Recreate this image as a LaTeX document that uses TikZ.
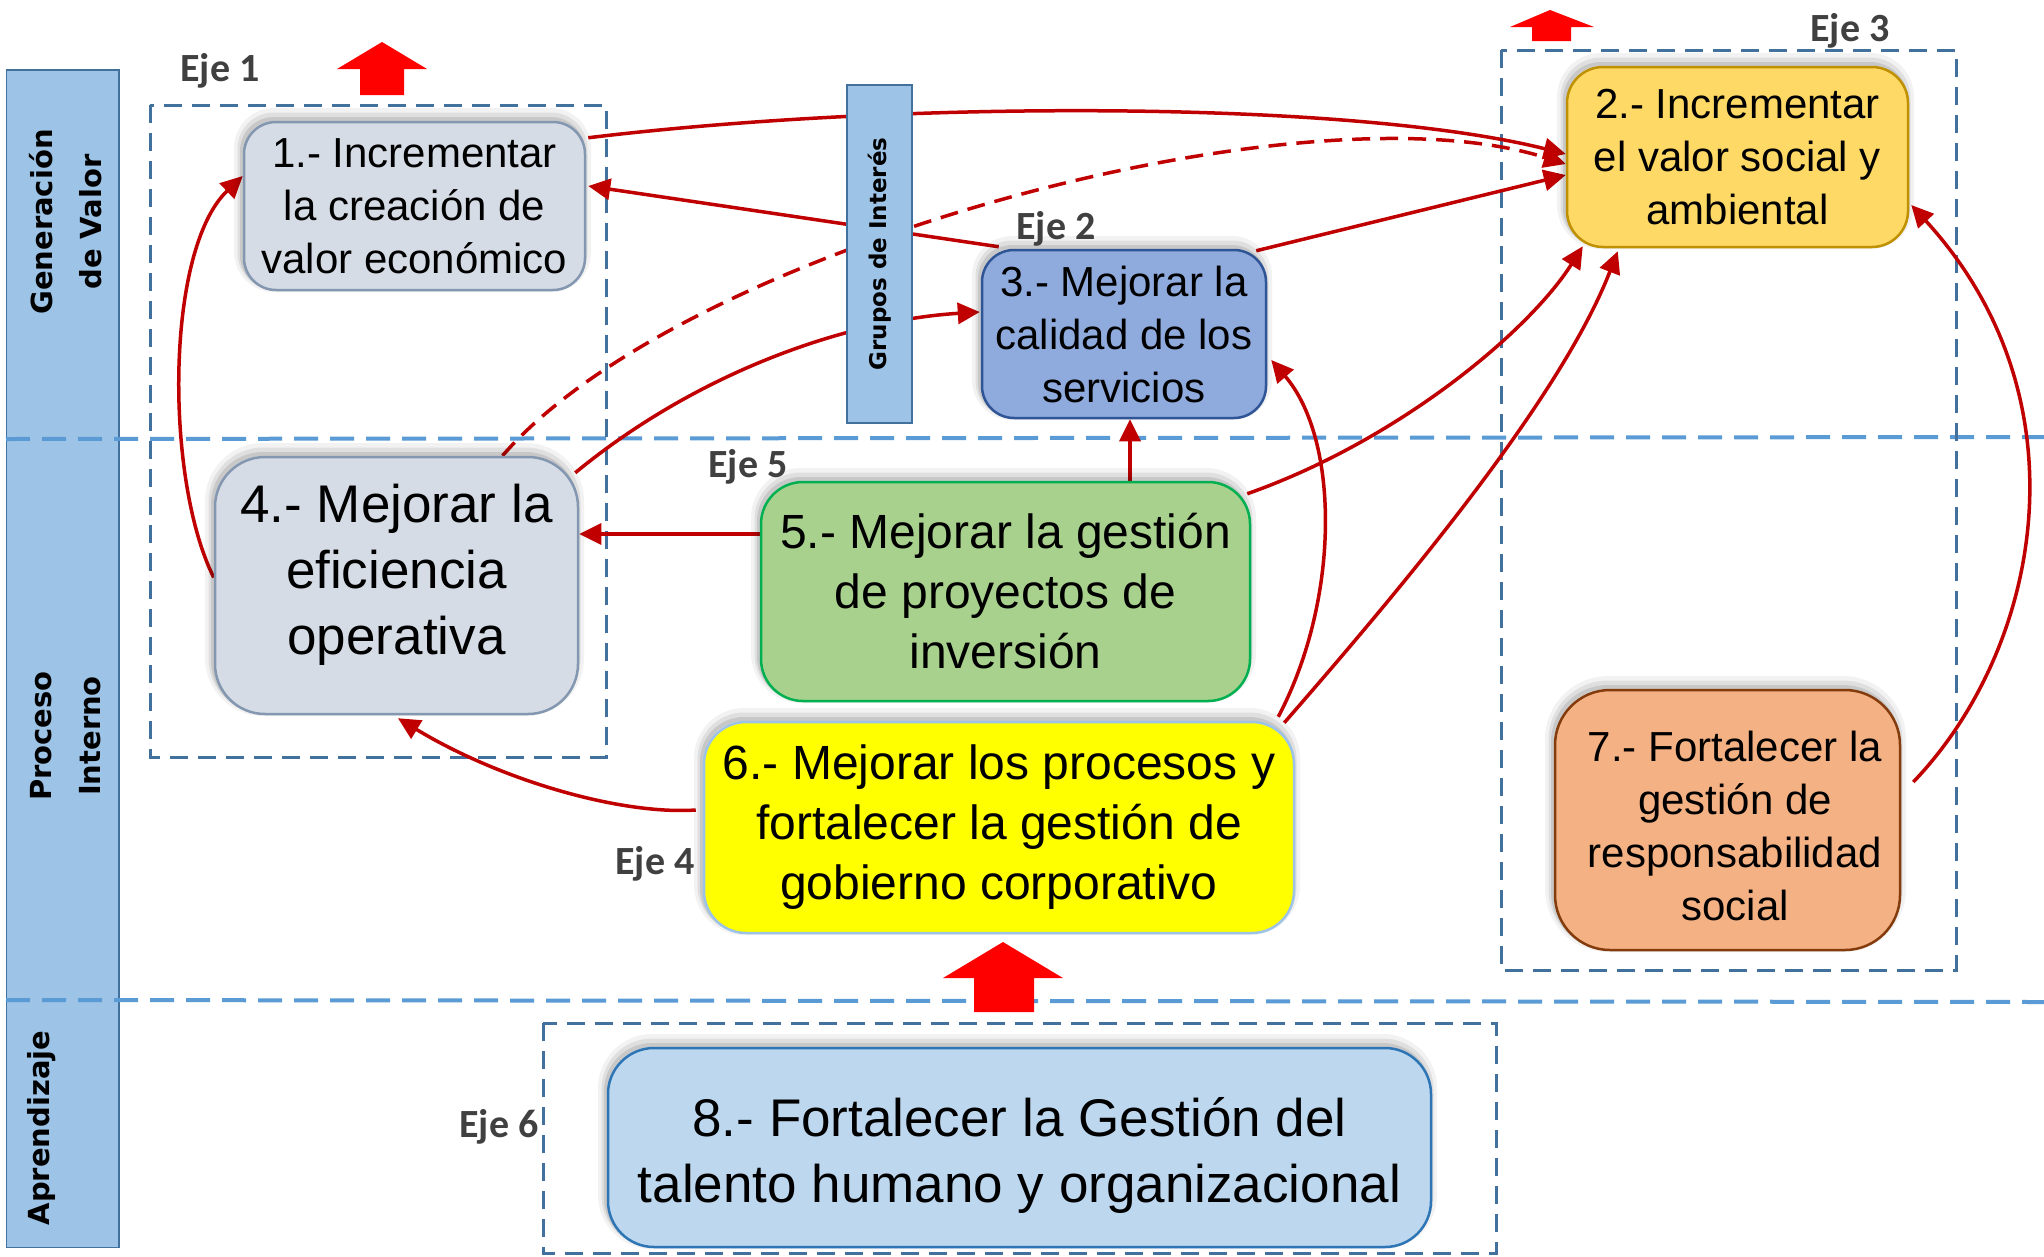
\documentclass[tikz,border=0pt]{standalone}
\usepackage{fontspec}
\setmainfont{Liberation Sans}
\newfontfamily\ejefont{Carlito}
\newfontfamily\sidefont{DejaVu Sans}
\usetikzlibrary{calc,arrows.meta}
\pgfdeclarelayer{bg}
\pgfdeclarelayer{mid}
\pgfsetlayers{bg,mid,main}
\definecolor{barfill}{HTML}{9DC3E6}
\definecolor{barline}{HTML}{41719C}
\definecolor{secline}{HTML}{5B9BD5}
\definecolor{ejeline}{HTML}{41719C}
\definecolor{ejetext}{HTML}{404040}
\definecolor{arrred}{HTML}{C00000}
\definecolor{blockred}{HTML}{FF0000}
\definecolor{grayfill}{HTML}{D6DCE5}
\definecolor{grayline}{HTML}{8497B0}
\definecolor{goldfill}{HTML}{FFD966}
\definecolor{goldline}{HTML}{BF9000}
\definecolor{bluefill}{HTML}{8FAADC}
\definecolor{blueline}{HTML}{2F5597}
\definecolor{greenfill}{HTML}{A9D18E}
\definecolor{greenline}{HTML}{00B050}
\definecolor{yelfill}{HTML}{FFFF00}
\definecolor{yelline}{HTML}{9DC3E6}
\definecolor{orfill}{HTML}{F4B183}
\definecolor{orline}{HTML}{843C0C}
\definecolor{ltfill}{HTML}{BDD7EE}
\definecolor{ltline}{HTML}{2E75B6}
\tikzset{
  goalbox/.style={draw, line width=2.5pt, align=center, inner sep=0pt,
    preaction={draw=black, draw opacity=0.05, line width=16pt, transform canvas={xshift=-2pt,yshift=6pt}},
    preaction={draw=black, draw opacity=0.08, line width=9pt, transform canvas={xshift=-2pt,yshift=5pt}},
    preaction={draw=black, draw opacity=0.10, line width=4pt, transform canvas={xshift=-2pt,yshift=3pt}}},
  goaltext/.style={align=center, inner sep=0pt},
  barbox/.style={draw=barline, fill=barfill, line width=1.5pt, inner sep=0pt},
  sidelbl/.style={font=\sidefont\bfseries\fontsize{29}{49}\selectfont, align=center, text=black},
  ejelbl/.style={font=\ejefont\bfseries\fontsize{40}{48}\selectfont, text=ejetext, inner sep=0pt},
  seclinestyle/.style={draw=secline, line width=4pt, dash pattern=on 24pt off 12pt},
  ejeboxstyle/.style={draw=ejeline, line width=3pt, dash pattern=on 18pt off 10pt},
  conn/.style={draw=arrred, line width=3.5pt, -{Triangle[length=22pt,width=21pt]}},
  blockarrow/.style={fill=blockred},
}
\begin{document}
\begin{tikzpicture}[x=1pt,y=-1pt]
\useasboundingbox (0,0) rectangle (2044,1256);
\begin{pgfonlayer}{bg}
\fill[white] (0,0) rectangle (2044,1256);
\node[barbox, minimum width=112.5pt, minimum height=1177.5pt] (side) at (62.5,658.75) {};
\draw[seclinestyle] (6,439) -- (2044,437);
\draw[seclinestyle] (6,1000) -- (2044,1002);
\draw[ejeboxstyle] (150,105) rectangle (606,757);
\draw[ejeboxstyle] (1501,50) rectangle (1956,970);
\draw[ejeboxstyle] (543,1023) rectangle (1496,1253);
\end{pgfonlayer}

% side labels
\node[sidelbl, rotate=90] (gv) at (66,222) {Generación\\de Valor};
\node[sidelbl, rotate=90] (pi) at (66,736) {Proceso\\Interno};
\node[sidelbl, rotate=90] (ap) at (42,1128) {Aprendizaje};

% stakeholders bar
\node[barbox, rotate=90, minimum width=338pt, minimum height=65pt,
  font=\sidefont\bfseries\fontsize{23}{28}\selectfont] (gi) at (879.5,254) {Grupos de Interés};

% goal nodes
\node[goalbox, fill=grayfill, draw=grayline, rounded corners=32pt, minimum width=341pt, minimum height=168pt,
  font=\fontsize{42}{53}\selectfont] (n1) at (414.5,206) {1.- Incrementar\\la creación de\\valor económico};
\node[goalbox, fill=goldfill, draw=goldline, rounded corners=36pt, minimum width=341pt, minimum height=180pt,
  font=\fontsize{42}{53}\selectfont] (n2) at (1737.5,157) {2.- Incrementar\\el valor social y\\ambiental};
\node[goalbox, fill=bluefill, draw=blueline, rounded corners=32pt, minimum width=284pt, minimum height=168pt,
  font=\fontsize{42}{53}\selectfont] (n3) at (1124,334) {3.- Mejorar la\\calidad de los\\servicios};
\node[goalbox, fill=grayfill, draw=grayline, rounded corners=50pt, minimum width=363pt, minimum height=257pt] (n4) at (396.5,585.5) {};
\node[goaltext, font=\fontsize{53}{66}\selectfont] (n4t) at (396.5,575) {4.- Mejorar la\\eficiencia\\operativa};
\node[goalbox, fill=greenfill, draw=greenline, rounded corners=42pt, minimum width=489pt, minimum height=219pt,
  font=\fontsize{48}{60}\selectfont] (n5) at (1005.5,591.5) {5.- Mejorar la gestión\\de proyectos de\\inversión};
\node[goalbox, fill=yelfill, draw=yelline, rounded corners=42pt, minimum width=590pt, minimum height=211pt,
  font=\fontsize{48}{60}\selectfont] (n6) at (999,827.5) {6.- Mejorar los procesos y\\fortalecer la gestión de\\gobierno corporativo};
\node[goalbox, fill=orfill, draw=orline, rounded corners=55pt, minimum width=345pt, minimum height=260pt] (n7) at (1727.5,820) {};
\node[goaltext, font=\fontsize{42}{53}\selectfont] (n7t) at (1735,826) {7.- Fortalecer la\\gestión de\\responsabilidad\\social};
\node[goalbox, fill=ltfill, draw=ltline, rounded corners=46pt, minimum width=823pt, minimum height=199pt] (n8) at (1019.5,1147.5) {};
\node[goaltext, font=\fontsize{53}{66}\selectfont] (n8t) at (1019.5,1155) {8.- Fortalecer la Gestión del\\talento humano y organizacional};

% eje labels
\node[ejelbl] (e1) at (220,71) {Eje 1};
\node[ejelbl] (e2) at (1056,229) {Eje 2};
\node[ejelbl] (e3) at (1850,31) {Eje 3};
\node[ejelbl] (e4) at (655,864) {Eje 4};
\node[ejelbl] (e5) at (748,467) {Eje 5};
\node[ejelbl] (e6) at (499,1127) {Eje 6};

% block arrows
\fill[blockarrow] (382,42) -- (427,69) -- (404,69) -- (404,95) -- (360,95) -- (360,69) -- (337,69) -- cycle;
\fill[blockarrow] (1550,10) -- (1594,27) -- (1571,27) -- (1571,41) -- (1532,41) -- (1532,27) -- (1510,27) -- cycle;
\fill[blockarrow] (1003,942) -- (1063,978) -- (1034,978) -- (1034,1012) -- (974,1012) -- (974,978) -- (943,978) -- cycle;

% connectors
\begin{pgfonlayer}{mid}
\draw[conn] ($(n1.north east)+(2,17)$) .. controls (900,100) and (1350,100) .. ($(n2.west)+(0,-3)$);
\draw[conn, dash pattern=on 18pt off 10pt] ($(n4.north)+(106,0)$) .. controls (680,250) and (1300,80) .. ($(n2.west)+(0,7)$);
\draw[conn] ($(n3.north west)+(18,-2)$) -- ($(n1.east)+(2,-20)$);
\draw[conn] ($(n3.north east)+(-11,2)$) -- ($(n2.west)+(0,18)$);
\draw[conn] ($(n4.north east)+(-4,17)$) .. controls (700,370) and (850,320) .. ($(n3.west)+(-1,-22)$);
\draw[conn] ($(n4.west)+(0,-8)$) .. controls (165,480) and (165,250) .. ($(n1.west)+(0,-30)$);
\draw[conn] ($(n5.west)+(0,-57.5)$) -- ($(n4.east)+(0,-51.5)$);
\draw[conn] ($(n3.south |- n5.north)+(6,0)$) -- ($(n3.south)+(6,0)$);
\draw[conn] ($(n5.north east)+(-4,13)$) .. controls (1400,440) and (1530,330) .. ($(n2.south west)+(17,-2)$);
\draw[conn] ($(n6.north east)+(-17,-4)$) .. controls (1340,600) and (1340,440) .. ($(n3.east)+(4,26)$);
\draw[conn] ($(n6.north east)+(-11,2)$) .. controls (1400,590) and (1560,400) .. ($(n2.south west)+(52,3)$);
\draw[conn] ($(n6.west)+(-7,-17.5)$) .. controls (620,815) and (500,780) .. ($(n4.south)+(1.5,3)$);
\draw[conn] ($(n7.east)+(12,-38)$) .. controls (2040,650) and (2090,400) .. ($(n2.east)+(2,48)$);
\end{pgfonlayer}
\end{tikzpicture}
\end{document}
